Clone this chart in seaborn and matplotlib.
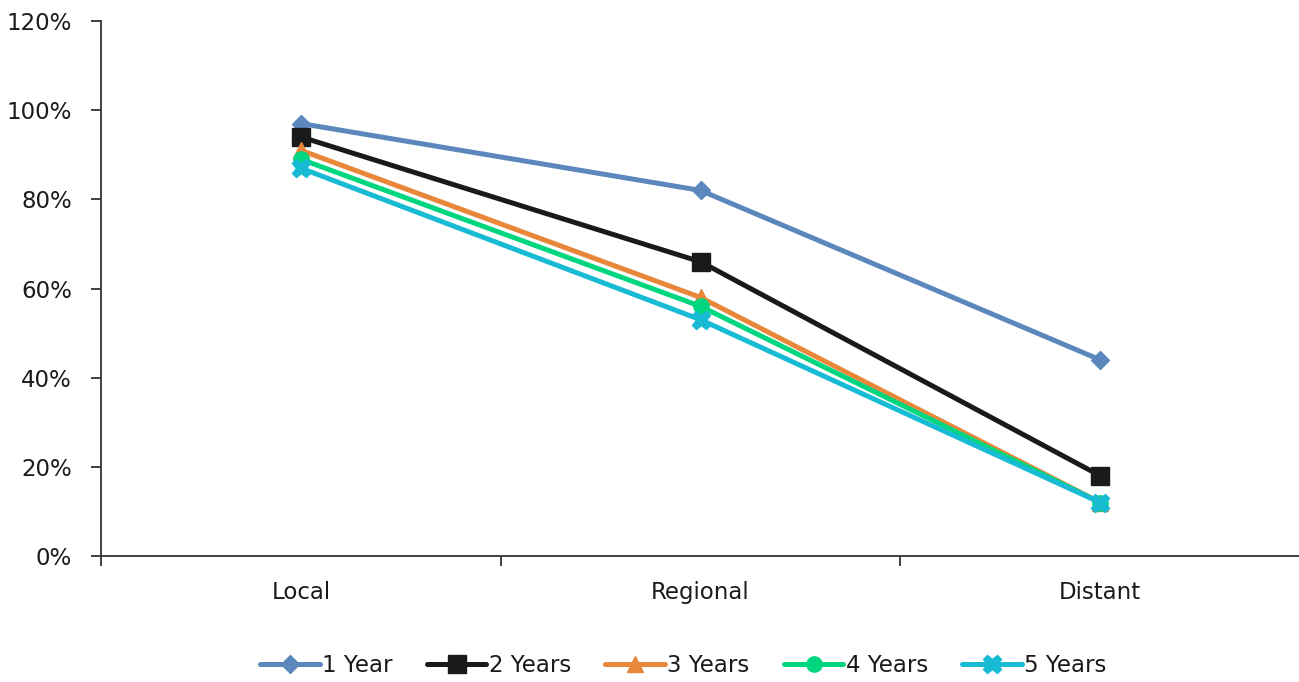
import matplotlib
matplotlib.use("Agg")
import matplotlib.pyplot as plt
import seaborn as sns
import pandas as pd
from matplotlib.ticker import FixedLocator, PercentFormatter

categories = ["Local", "Regional", "Distant"]
series_names = ["1 Year", "2 Years", "3 Years", "4 Years", "5 Years"]
year1 = [97, 82, 44]
year2 = [94, 66, 18]
year3 = [91, 58, 12]
year4 = [89, 56, 12]
year5 = [87, 53, 12]
y_ticks = [0, 20, 40, 60, 80, 100, 120]

colors = ["#5B87BD", "#1A1A1A", "#E8873A", "#00D67F", "#17BBD4"]
markers = ["D", "s", "^", "o", "X"]
msizes = [9, 13, 11, 11, 13]

sns.set_theme(style="white")
plt.rcParams["font.family"] = ["DejaVu Sans"]

rows = []
for name, vals in zip(series_names, [year1, year2, year3, year4, year5]):
    for c, v in zip(categories, vals):
        rows.append({"Category": c, "Value": v, "Series": name})
df = pd.DataFrame(rows)

fig = plt.figure(figsize=(12.99, 6.82), dpi=100)
ax = fig.add_axes([101 / 1299, 1 - 556 / 682, 1199 / 1299, (556 - 21) / 682])

for name, col, mk, ms in zip(series_names, colors, markers, msizes):
    sub = df[df["Series"] == name]
    sns.lineplot(data=sub, x="Category", y="Value", ax=ax, color=col,
                 marker=mk, markersize=ms, linewidth=3.6,
                 markeredgecolor=col, markeredgewidth=1, label=name,
                 sort=False)

ax.set_xlim(-0.5, 2.5)
ax.set_ylim(0, 120)
ax.set_yticks(y_ticks)
ax.yaxis.set_major_formatter(PercentFormatter(decimals=0))
ax.set_xticks(range(len(categories)))
ax.set_xticklabels(categories)
ax.xaxis.set_minor_locator(FixedLocator([-0.5, 0.5, 1.5, 2.5]))
ax.tick_params(axis="x", which="major", length=0, pad=18, labelsize=16.5, colors="#1a1a1a")
ax.tick_params(axis="x", which="minor", length=7, width=1.3, color="#333333", direction="out", bottom=True)
ax.tick_params(axis="y", which="major", length=7, width=1.3, color="#333333", direction="out", left=True,
               labelsize=16.5, pad=14, labelcolor="#1a1a1a")
ax.set_xlabel("")
ax.set_ylabel("")
for s in ["top", "right"]:
    ax.spines[s].set_visible(False)
for s in ["left", "bottom"]:
    ax.spines[s].set_color("#333333")
    ax.spines[s].set_linewidth(1.3)
ax.grid(False)

if ax.legend_:
    ax.legend_.remove()
handles, labels = ax.get_legend_handles_labels()
fig.legend(handles, labels, loc="center", bbox_to_anchor=(0.526, 1 - 666 / 682),
           ncol=5, frameon=False, fontsize=16.5, handlelength=2.6, handletextpad=0.1,
           columnspacing=1.5, labelcolor="#1a1a1a")

fig.savefig("out.png", dpi=100)
